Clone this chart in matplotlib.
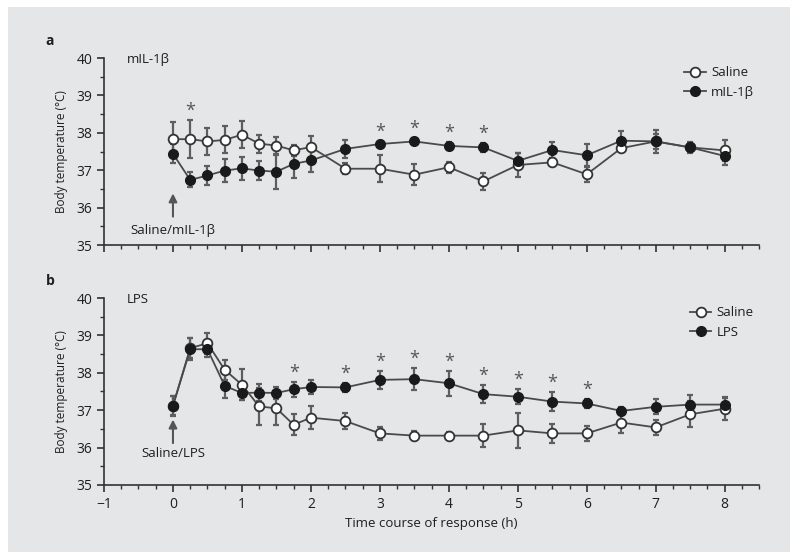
import matplotlib
matplotlib.use('Agg')
import matplotlib.pyplot as plt
import numpy as np
from matplotlib.ticker import MultipleLocator

plt.rcParams['font.family'] = ['Open Sans', 'DejaVu Sans']

# time points (h)
t = [0, 0.25, 0.5, 0.75, 1.0, 1.25, 1.5, 1.75, 2.0, 2.5, 3.0, 3.5,
     4.0, 4.5, 5.0, 5.5, 6.0, 6.5, 7.0, 7.5, 8.0]

# panel a: saline vs mIL-1beta
a_saline = [37.83, 37.83, 37.77, 37.81, 37.95, 37.71, 37.66, 37.53, 37.62, 37.04, 37.04,
            36.88, 37.08, 36.70, 37.14, 37.21, 36.89, 37.59, 37.77, 37.61, 37.53]
a_saline_err = [0.45, 0.5, 0.36, 0.36, 0.36, 0.24, 0.24, 0.15, 0.3, 0.15, 0.36,
                0.28, 0.15, 0.22, 0.31, 0.1, 0.2, 0.1, 0.3, 0.12, 0.28]
a_drug = [37.44, 36.74, 36.86, 36.99, 37.05, 36.99, 36.96, 37.17, 37.26, 37.57, 37.70,
          37.77, 37.65, 37.61, 37.25, 37.54, 37.40, 37.79, 37.77, 37.61, 37.38]
a_drug_err = [0.25, 0.2, 0.25, 0.3, 0.3, 0.25, 0.47, 0.38, 0.3, 0.25, 0.08,
              0.08, 0.1, 0.12, 0.2, 0.22, 0.3, 0.27, 0.2, 0.15, 0.25]
a_stars = [0.25, 3.0, 3.5, 4.0, 4.5]

# panel b: saline vs LPS
b_saline = [37.12, 38.66, 38.79, 38.08, 37.68, 37.10, 37.05, 36.61, 36.80, 36.71, 36.38,
            36.32, 36.32, 36.32, 36.46, 36.38, 36.38, 36.67, 36.54, 36.89, 37.04]
b_saline_err = [0.27, 0.27, 0.28, 0.27, 0.42, 0.5, 0.45, 0.28, 0.3, 0.22, 0.18,
                0.12, 0.1, 0.3, 0.47, 0.25, 0.2, 0.27, 0.2, 0.35, 0.3]
b_drug = [37.12, 38.63, 38.63, 37.65, 37.46, 37.47, 37.46, 37.56, 37.62, 37.61, 37.81,
          37.83, 37.72, 37.43, 37.36, 37.23, 37.18, 36.98, 37.09, 37.15, 37.15]
b_drug_err = [0.25, 0.3, 0.2, 0.33, 0.2, 0.22, 0.15, 0.2, 0.2, 0.12, 0.24,
              0.3, 0.33, 0.24, 0.2, 0.25, 0.12, 0.1, 0.2, 0.25, 0.18]
b_stars = [1.75, 2.5, 3.0, 3.5, 4.0, 4.5, 5.0, 5.5, 6.0]

panels = [
    ('a', 'mIL-1\u03b2', 'Saline/mIL-1\u03b2', a_saline, a_saline_err, a_drug, a_drug_err, a_stars),
    ('b', 'LPS', 'Saline/LPS', b_saline, b_saline_err, b_drug, b_drug_err, b_stars),
]

fig = plt.figure(figsize=(8, 5.59), dpi=100)
fig.patch.set_facecolor('white')
bg = plt.Rectangle((0.01, 0.013), 0.978, 0.975, transform=fig.transFigure,
                   facecolor='#e5e6e7', edgecolor='none', zorder=-10)
fig.patches.append(bg)

bottoms = [0.5617, 0.1324]
line_c = '#4a4a4a'
err_c = '#5e5e5e'
txt_c = '#1e1e1e'

for (letter, title, arrow_txt, sal, sal_e, drg, drg_e, stars), bot in zip(panels, bottoms):
    ax = fig.add_axes([0.13, bot, 0.819, 0.3345])
    ax.set_facecolor('none')
    ax.errorbar(t, sal, yerr=sal_e, fmt='none', ecolor=err_c, elinewidth=1.6,
                capsize=2.5, capthick=1.6, zorder=2)
    ax.errorbar(t, drg, yerr=drg_e, fmt='none', ecolor=err_c, elinewidth=1.6,
                capsize=2.5, capthick=1.6, zorder=2)
    ax.plot(t, sal, 'o-', color=line_c, markersize=7, markerfacecolor='white',
            markeredgecolor='#333333', markeredgewidth=1.3, lw=1.3, label='Saline', zorder=3)
    ax.plot(t, drg, 'o-', color=line_c, markersize=7, markerfacecolor='#1a1a1a',
            markeredgecolor='#1a1a1a', lw=1.3, label=title, zorder=4)

    # significance stars above the highest error bar
    top = np.maximum(np.array(sal) + np.array(sal_e), np.array(drg) + np.array(drg_e))
    for s in stars:
        i = t.index(s)
        ax.text(s, top[i] + 0.25, '*', ha='center', va='center', fontsize=13, color='#555555')

    ax.annotate('', xy=(0, 36.75 if letter == 'b' else 36.38),
                xytext=(0, 36.12 if letter == 'b' else 35.76),
                arrowprops=dict(arrowstyle='-|>', color='#555555', lw=1.5, mutation_scale=12,
                                shrinkA=0, shrinkB=0))
    ax.text(0, 35.83 if letter == 'b' else 35.4, arrow_txt, ha='center', va='center',
            fontsize=9.5, color=txt_c)
    ax.text(-0.67, 39.95, title, ha='left', va='center', fontsize=9.5, color=txt_c)
    ax.text(-0.089, 1.09, letter, transform=ax.transAxes, fontsize=10, fontweight='bold',
            ha='left', va='center', color=txt_c)

    ax.set_xlim(-1, 8.5)
    ax.set_ylim(35, 40)
    ax.xaxis.set_major_locator(MultipleLocator(1))
    ax.xaxis.set_minor_locator(MultipleLocator(0.25))
    ax.yaxis.set_major_locator(MultipleLocator(1))
    ax.yaxis.set_minor_locator(MultipleLocator(0.5))
    ax.set_xticks(np.arange(-1, 9, 1))
    for sp in ['top', 'right']:
        ax.spines[sp].set_visible(False)
    for sp in ['left', 'bottom']:
        ax.spines[sp].set_color('#333333')
        ax.spines[sp].set_linewidth(1.2)
    ax.tick_params(which='major', direction='out', length=5, width=1.2, colors='#333333',
                   labelcolor=txt_c, labelsize=10)
    ax.tick_params(which='minor', direction='out', length=3, width=1.0, colors='#333333')
    ax.set_ylabel('Body temperature (\u00b0C)', fontsize=8.5, color=txt_c, labelpad=6)
    if letter == 'a':
        ax.tick_params(axis='x', labelbottom=False)
    else:
        ax.set_xticklabels(['\u22121', '0', '1', '2', '3', '4', '5', '6', '7', '8'])
        ax.set_xlabel('Time course of response (h)', fontsize=9.5, color=txt_c, labelpad=4)

    leg = ax.legend(loc='upper right', bbox_to_anchor=(1.01, 1.02), frameon=False,
                    fontsize=9.5, handlelength=1.6, handletextpad=0.4, labelspacing=0.5)
    for txt in leg.get_texts():
        txt.set_color(txt_c)

fig.savefig('out.png', dpi=100)
